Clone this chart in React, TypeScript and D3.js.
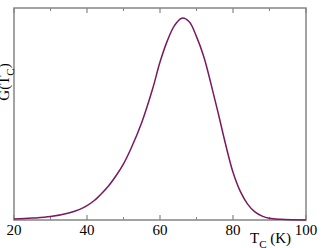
import React from "react";
import * as d3 from "d3";

const temps = [20, 25, 30, 35, 38, 40, 42, 44, 46, 48, 50, 52, 55, 58, 60, 62, 64, 66, 68, 70, 72, 74, 76, 78, 80, 82, 84, 86, 88, 90, 93, 96, 100];
const gValues = [0.005, 0.009, 0.016, 0.033, 0.05, 0.068, 0.092, 0.125, 0.163, 0.21, 0.265, 0.335, 0.46, 0.62, 0.745, 0.845, 0.918, 0.952, 0.935, 0.865, 0.77, 0.64, 0.5, 0.355, 0.225, 0.135, 0.075, 0.038, 0.018, 0.008, 0.003, 0.001, 0.0005];
const majorTicks = [20, 40, 60, 80, 100];
const minorTicks = [30, 50, 70, 90];

const W = 326;
const H = 248;
const L = 14, R = 306, T = 8, B = 220;
const axisColor = "#858585";
const lineColor = "#7a1a5e";
const font = "'Liberation Serif', 'Times New Roman', serif";

export default function App() {
  const x = d3.scaleLinear().domain([20, 100]).range([L, R]);
  const y = d3.scaleLinear().domain([0, 1]).range([B, T]);
  const pts = temps.map((t, i) => [t, gValues[i]] as [number, number]);
  const line = d3
    .line<[number, number]>()
    .x((d) => x(d[0]))
    .y((d) => y(d[1]))
    .curve(d3.curveCatmullRom.alpha(0.5));

  return (
    <svg width={W} height={H} style={{ position: "absolute", left: 0, top: 0, background: "#fff" }}>
      <rect x={L} y={T} width={R - L} height={B - T} fill="none" stroke={axisColor} strokeWidth={1.5} />
      {majorTicks.map((t) => (
        <g key={"M" + t}>
          <line x1={x(t)} x2={x(t)} y1={B} y2={B - 5} stroke={axisColor} strokeWidth={1.2} />
          <line x1={x(t)} x2={x(t)} y1={T} y2={T + 5} stroke={axisColor} strokeWidth={1.2} />
          <text x={x(t)} y={235} textAnchor="middle" fontFamily={font} fontSize={15} fill="#000">
            {t}
          </text>
        </g>
      ))}
      {minorTicks.map((t) => (
        <g key={"m" + t}>
          <line x1={x(t)} x2={x(t)} y1={B} y2={B - 3} stroke={axisColor} strokeWidth={1} />
          <line x1={x(t)} x2={x(t)} y1={T} y2={T + 3} stroke={axisColor} strokeWidth={1} />
        </g>
      ))}
      <path d={line(pts) || ""} fill="none" stroke={lineColor} strokeWidth={1.5} />
      <text x={250} y={243} fontFamily={font} fontSize={15} fill="#000">
        T
        <tspan fontSize={11} dy={5}>C</tspan>
        <tspan dy={-5}> (K)</tspan>
      </text>
      <text
        transform="translate(9,82) rotate(-90)"
        textAnchor="middle"
        fontFamily={font}
        fontSize={15}
        fill="#000"
      >
        G(T
        <tspan fontSize={11} dy={5}>C</tspan>
        <tspan dy={-5}>)</tspan>
      </text>
    </svg>
  );
}
